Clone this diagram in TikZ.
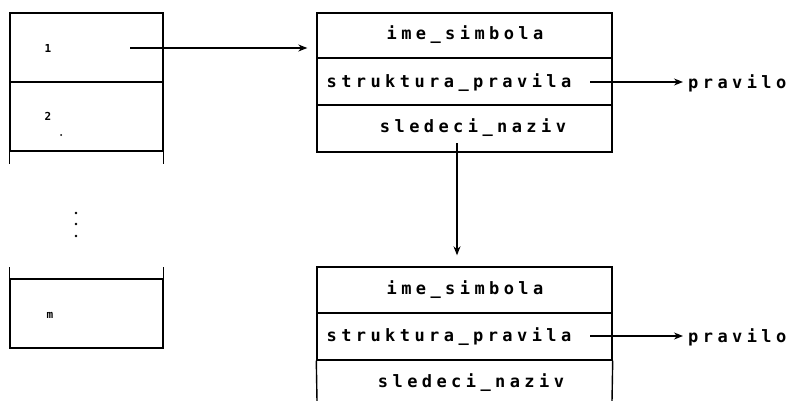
\documentclass[tikz,border=0pt]{standalone}
\usepackage{fontspec}
\newfontfamily\dotfont[LetterSpace=26]{DejaVu Sans Mono Bold}
\newfontfamily\numfont{DejaVu Sans Mono Bold}
\usetikzlibrary{arrows.meta}
\begin{document}
\begin{tikzpicture}[x=1pt,y=-1pt,
  frame/.style={line width=1.4pt},
  cell/.style={frame,draw,rectangle,inner sep=0pt,minimum width=153pt,minimum height=69pt},
  row/.style={frame,draw,rectangle,inner sep=0pt,minimum width=295pt},
  txt/.style={inner sep=0pt,font=\dotfont\fontsize{17}{17}\selectfont},
  num/.style={inner sep=0pt,font=\numfont\fontsize{11}{11}\selectfont},
  arr/.style={line width=1.2pt,-{Stealth[length=9pt,width=7pt]}}]
\useasboundingbox (0,0) rectangle (802,401);
% left table
\node[cell] (c1) at (86.5,47.5) {};
\node[cell] (c2) at (86.5,116.5) {};
\node[cell] (cm) at (86.5,313.5) {};
\draw[frame] (c2.south west) -- ++(0,12);
\draw[frame] (c2.south east) -- ++(0,12);
\draw[frame] (cm.north west) -- ++(0,-11);
\draw[frame] (cm.north east) -- ++(0,-11);
\node[num] (n1) at (48,48) {1};
\node[num] (n2) at (48,116) {2};
\node[num] (nm) at (50,315) {m};
\fill (61,135) circle (1);
\fill (76,213) circle (1.4);
\fill (76,224) circle (1.4);
\fill (76,236) circle (1.4);
% upper record
\node[row,minimum height=45pt] (r1) at (464.5,35.5) {};
\node[row,minimum height=47pt] (r2) at (464.5,81.5) {};
\node[row,minimum height=47pt] (r3) at (464.5,128.5) {};
\node[txt] (t1) at (465,35) {ime\_simbola};
\node[txt] (t2) at (449,83) {struktura\_pravila};
\node[txt] (t3) at (473,128) {sledeci\_naziv};
\node[txt,anchor=west] (p1) at (688,83) {pravilo};
% lower record
\node[row,minimum height=46pt] (s1) at (464.5,290) {};
\node[row,minimum height=47pt] (s2) at (464.5,336.5) {};
\coordinate (s3w) at (317,401);
\coordinate (s3e) at (612,401);
\draw[frame] (s2.south west) -- (s3w);
\draw[frame] (s2.south east) -- (s3e);
\node[txt] (u1) at (465,290) {ime\_simbola};
\node[txt] (u2) at (449,337) {struktura\_pravila};
\node[txt] (u3) at (471,383) {sledeci\_naziv};
\node[txt,anchor=west] (p2) at (688,337) {pravilo};
% connectors
\coordinate (a1) at (130,48);
\draw[arr,shorten >=9pt] (a1) -- (a1 -| r1.west);
\coordinate (a2) at (590,82);
\draw[arr,shorten >=5pt] (a2) -- (a2 -| p1.west);
\coordinate (a3) at (590,336);
\draw[arr,shorten >=5pt] (a3) -- (a3 -| p2.west);
\coordinate (a4) at (457,143);
\draw[arr,shorten >=11pt] (a4) -- (a4 |- s1.north);
\end{tikzpicture}
\end{document}
